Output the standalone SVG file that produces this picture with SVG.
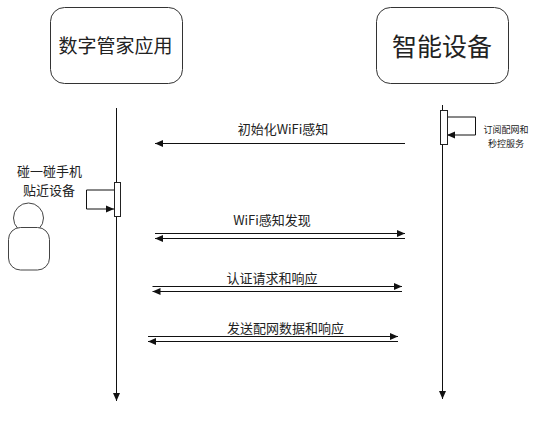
<svg xmlns="http://www.w3.org/2000/svg" width="541" height="425" viewBox="0 0 541 425">
<defs>
<marker id="arrow" viewBox="0 0 8 8" refX="8" refY="4" markerWidth="8" markerHeight="8" markerUnits="userSpaceOnUse" orient="auto"><path d="M0 0.5L8 4L0 7.5z" fill="#111"/></marker>
</defs>
<style>
text{font-family:"Noto Sans CJK SC","Liberation Sans",sans-serif;fill:#222;text-anchor:middle}
.box{fill:#fff;stroke:#333;stroke-width:1}
.act{fill:#fff;stroke:#222;stroke-width:1}
.line{fill:none;stroke:#111;stroke-width:1}
.arr{fill:none;stroke:#111;stroke-width:1;marker-end:url(#arrow)}
.shape{fill:#fff;stroke:#444;stroke-width:1}
.lbl{font-size:13px}
.sm{font-size:9px}
</style>
<g id="node-app"><rect class="box" x="50.5" y="7.5" width="132" height="76" rx="14"/><text x="115.500" y="53" font-size="19">数字管家应用</text></g>
<g id="node-device"><rect class="box" x="376.5" y="7.5" width="132" height="76" rx="14"/><text x="442" y="56" font-size="25">智能设备</text></g>
<g id="connectors">
<path class="arr" d="M116.500 108V401"/>
<path class="arr" d="M442.500 105V399"/>
<path class="arr" d="M114 190H86.500V209H114"/>
<path class="arr" d="M447 117H475.500V135H447"/>
<path class="arr" d="M405 143.500H155"/>
<path class="arr" d="M155 233.500H405"/>
<path class="arr" d="M405 238.500H155"/>
<path class="arr" d="M152.500 286.500H402"/>
<path class="arr" d="M402 291.500H152.500"/>
<path class="arr" d="M148 336.500H398"/>
<path class="arr" d="M398 341.500H148"/>
</g>
<g id="node-act-left"><rect class="act" x="114.500" y="182.500" width="6" height="34"/></g>
<g id="node-act-right"><rect class="act" x="440.500" y="110.500" width="7" height="34"/></g>
<g id="node-person"><circle class="shape" cx="28.500" cy="218" r="15"/><rect class="shape" x="8.500" y="227.500" width="41" height="42.500" rx="12"/></g>
<g id="labels">
<text class="lbl" x="283" y="134">初始化WiFi感知</text>
<text class="lbl" x="272" y="225">WiFi感知发现</text>
<text class="lbl" x="272" y="283">认证请求和响应</text>
<text class="lbl" x="285.500" y="333">发送配网数据和响应</text>
<text class="lbl" x="49.500" y="176">碰一碰手机</text>
<text class="lbl" x="49" y="195">贴近设备</text>
<text class="sm" x="506" y="133">订阅配网和</text>
<text class="sm" x="506" y="147">秒控服务</text>
</g>
</svg>
